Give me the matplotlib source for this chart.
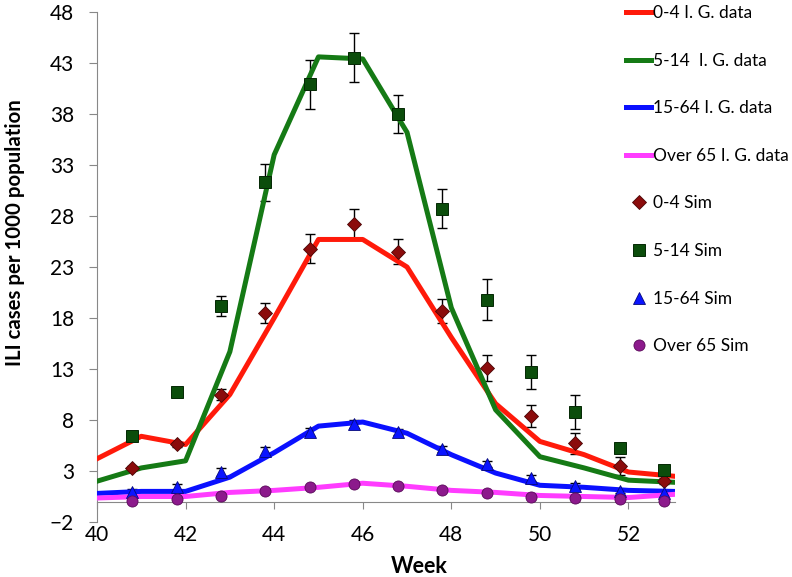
import numpy as np
import matplotlib
matplotlib.use('Agg')
import matplotlib.pyplot as plt

plt.rcParams['font.family'] = ['Lato', 'DejaVu Sans']

# weekly I.G. data (lines)
weeks = [40, 41, 42, 43, 44, 45, 46, 47, 48, 49, 50, 51, 52, 53]
ig_0_4 = [4.2, 6.4, 5.6, 10.5, 18.0, 25.7, 25.7, 23.0, 16.1, 9.6, 5.9, 4.6, 2.9, 2.5]
ig_5_14 = [2.0, 3.3, 4.0, 14.7, 34.0, 43.6, 43.4, 36.2, 19.0, 9.0, 4.4, 3.3, 2.1, 1.9]
ig_15_64 = [0.8, 1.0, 1.0, 2.4, 4.8, 7.4, 7.8, 6.7, 4.6, 2.8, 1.6, 1.4, 1.1, 1.0]
ig_over65 = [0.35, 0.5, 0.5, 0.9, 1.1, 1.4, 1.8, 1.5, 1.1, 0.9, 0.6, 0.5, 0.4, 0.7]

# simulation results (markers with error bars)
sim_weeks = [40.8, 41.8, 42.8, 43.8, 44.8, 45.8, 46.8, 47.8, 48.8, 49.8, 50.8, 51.8, 52.8]
sim_0_4 = [3.3, 5.6, 10.5, 18.5, 24.8, 27.2, 24.5, 18.7, 13.1, 8.4, 5.7, 3.5, 2.0]
err_0_4 = [0.2, 0.2, 0.5, 1.0, 1.45, 1.5, 1.2, 1.2, 1.3, 1.1, 1.0, 0.9, 0.3]
sim_5_14 = [6.4, 10.7, 19.2, 31.3, 40.9, 43.5, 38.0, 28.7, 19.8, 12.7, 8.8, 5.3, 3.1]
err_5_14 = [0.2, 0.3, 1.0, 1.8, 2.4, 2.4, 1.9, 1.9, 2.0, 1.7, 1.7, 0.3, 0.2]
sim_15_64 = [0.9, 1.4, 2.9, 5.0, 6.8, 7.6, 6.8, 5.2, 3.7, 2.3, 1.5, 1.0, 0.8]
err_15_64 = [0.3, 0.3, 0.4, 0.4, 0.4, 0.4, 0.3, 0.3, 0.3, 0.3, 0.3, 0.2, 0.2]
sim_over65 = [0.05, 0.25, 0.55, 1.0, 1.4, 1.7, 1.5, 1.1, 0.8, 0.5, 0.35, 0.25, 0.05]
err_over65 = [0.1, 0.1, 0.1, 0.1, 0.1, 0.1, 0.1, 0.1, 0.1, 0.1, 0.1, 0.1, 0.1]

yticks = [-2, 3, 8, 13, 18, 23, 28, 33, 38, 43, 48]
xticks = [40, 42, 44, 46, 48, 50, 52]

fig = plt.figure(figsize=(7.92, 5.77), dpi=100)
ax = fig.add_axes([97/792., 55/577., 578/792., 510/577.])

lw = 3.6
ax.plot(weeks, ig_0_4, color='#ff1a0a', lw=lw, label='0-4 I. G. data', zorder=3)
ax.plot(weeks, ig_5_14, color='#157a15', lw=lw, label='5-14  I. G. data', zorder=3)
ax.plot(weeks, ig_15_64, color='#0a10ff', lw=lw, label='15-64 I. G. data', zorder=3)
ax.plot(weeks, ig_over65, color='#ff3cff', lw=lw, label='Over 65 I. G. data', zorder=3)

# error bars below the lines
for vals, errs in [(sim_0_4, err_0_4), (sim_5_14, err_5_14),
                   (sim_15_64, err_15_64), (sim_over65, err_over65)]:
    ax.errorbar(sim_weeks, vals, yerr=errs, fmt='none', ecolor='black',
                elinewidth=1.0, capsize=3.5, capthick=1.0, zorder=2)

ax.plot(sim_weeks, sim_0_4, 'D', ms=7, color='#8b0c0c', mec='#4a0505', mew=0.6,
        ls='none', label='0-4 Sim', zorder=4)
ax.plot(sim_weeks, sim_5_14, 's', ms=8.5, color='#0b4d0b', mec='#042804', mew=0.7,
        ls='none', label='5-14 Sim', zorder=4)
ax.plot(sim_weeks, sim_15_64, '^', ms=8.5, color='#0a14ff', mec='#05087a', mew=0.6,
        ls='none', label='15-64 Sim', zorder=4)
ax.plot(sim_weeks, sim_over65, 'o', ms=8, color='#8c1a8c', mec='#5a0a5a', mew=0.6,
        ls='none', label='Over 65 Sim', zorder=4)

ax.set_xlim(40, 53.05)
ax.set_ylim(-2, 48)
ax.set_xticks(xticks)
ax.set_yticks(yticks)

for s in ['top', 'right']:
    ax.spines[s].set_visible(False)
ax.spines['left'].set_color('#888888')
ax.spines['bottom'].set_color('#888888')
ax.spines['bottom'].set_position(('data', 0))
ax.tick_params(axis='y', direction='out', length=6, color='#888888', pad=10.5, labelsize=15)
ax.tick_params(axis='x', direction='out', length=5, color='#888888', pad=12, labelsize=15)

ax.set_xlabel('Week', fontsize=15.5, fontweight='bold')
ax.xaxis.set_label_coords(0.557, -0.066)
ax.set_ylabel('ILI cases per 1000 population', fontsize=14.7, fontweight='bold')
ax.yaxis.set_label_coords(-0.124, 0.567)

fig.legend(loc='upper left', bbox_to_anchor=(626/792., 1 - 5/577.), frameon=False,
           fontsize=12.5, labelspacing=1.82, handlelength=1.45, handletextpad=0.12,
           borderaxespad=0.0, borderpad=0.0)

fig.savefig('out.png', dpi=100)
